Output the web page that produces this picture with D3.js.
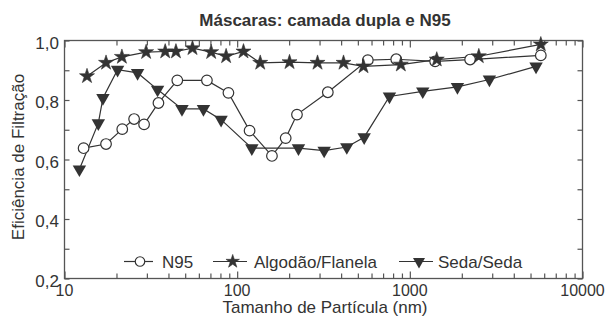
<!DOCTYPE html>
<html><head><meta charset="utf-8">
<script src="https://cdn.jsdelivr.net/npm/d3@7"></script>
<style>body{margin:0;background:#fff}svg{display:block}text{font-family:"Liberation Sans",Arial,sans-serif;fill:#333}</style>
</head><body><svg id="c" width="605" height="323"></svg>
<script>
const title = "Máscaras: camada dupla e N95";
const xLabel = "Tamanho de Partícula (nm)";
const yLabel = "Eficiência de Filtração";
const xTicks = [10, 100, 1000, 10000];
const yTicks = [0.2, 0.4, 0.6, 0.8, 1.0];
const yTickLabels = ["0,2", "0,4", "0,6", "0,8", "1,0"];
const seriesNames = ["N95", "Algodão/Flanela", "Seda/Seda"];

const n95X = [12.9, 17.4, 21.6, 25.3, 28.9, 35, 45, 66.8, 89, 118, 159, 191, 222, 335, 571, 834, 1401, 2234, 5735];
const n95Y = [0.638, 0.652, 0.702, 0.736, 0.718, 0.790, 0.866, 0.866, 0.824, 0.697, 0.612, 0.672, 0.751, 0.826, 0.934, 0.937, 0.930, 0.936, 0.950];

const algX = [13.5, 17.4, 21.5, 29.7, 38.3, 44.2, 55.1, 70.7, 86.3, 108.8, 136, 201, 292, 413, 539, 887, 1432, 2509, 5735];
const algY = [0.880, 0.925, 0.945, 0.961, 0.963, 0.963, 0.974, 0.961, 0.947, 0.963, 0.925, 0.927, 0.925, 0.925, 0.913, 0.919, 0.936, 0.947, 0.987];

const sedaX = [12.2, 15.7, 16.7, 20.3, 26.5, 34.6, 47.9, 63.8, 80.7, 121.6, 226.5, 319, 431.5, 544, 762, 1188, 1887, 2890, 5383];
const sedaY = [0.567, 0.722, 0.807, 0.902, 0.891, 0.835, 0.770, 0.770, 0.734, 0.638, 0.638, 0.630, 0.642, 0.675, 0.812, 0.829, 0.844, 0.869, 0.913];

const svg = d3.select("#c");
const L = 64.5, R = 582.5, T = 40.5, B = 278.5;
const x = d3.scaleLog().domain([10, 10000]).range([L, R]);
const y = d3.scaleLinear().domain([0.2, 1.0]).range([B, T]);
const ink = "#333", axisCol = "#555";

// frame
svg.append("rect").attr("x", L).attr("y", T).attr("width", R - L).attr("height", B - T)
  .attr("fill", "none").attr("stroke", axisCol).attr("stroke-width", 1.3);

// x ticks (inward, bottom & top)
const xMinor = [];
for (let d = 10; d < 10000; d *= 10) for (let k = 1; k <= 9; k++) xMinor.push(d * k);
xMinor.push(10000);
const xAxisB = d3.axisBottom(x).tickValues(xMinor).tickSizeInner(-5).tickSizeOuter(0).tickFormat("");
const xAxisT = d3.axisTop(x).tickValues(xMinor).tickSizeInner(-5).tickSizeOuter(0).tickFormat("");
const gxb = svg.append("g").attr("transform", `translate(0,${B})`).call(xAxisB);
const gxt = svg.append("g").attr("transform", `translate(0,${T})`).call(xAxisT);
[gxb, gxt].forEach(g => { g.select(".domain").remove(); g.selectAll("line").attr("stroke", axisCol).attr("stroke-width", 1.2); });
gxb.selectAll(".tick line").filter(d => xTicks.includes(d)).attr("y2", -7);
gxt.selectAll(".tick line").filter(d => xTicks.includes(d)).attr("y2", 7);
svg.append("g").selectAll("text").data(xTicks).join("text")
  .attr("x", d => x(d)).attr("y", 296).attr("text-anchor", "middle").attr("font-size", 16).text(d => d);

// y ticks (inward, left & right)
const yMinor = d3.range(2, 11).map(v => v / 10);
const yAxisL = d3.axisLeft(y).tickValues(yMinor).tickSizeInner(-5).tickSizeOuter(0).tickFormat("");
const yAxisR = d3.axisRight(y).tickValues(yMinor).tickSizeInner(-5).tickSizeOuter(0).tickFormat("");
const gyl = svg.append("g").attr("transform", `translate(${L},0)`).call(yAxisL);
const gyr = svg.append("g").attr("transform", `translate(${R},0)`).call(yAxisR);
[gyl, gyr].forEach(g => { g.select(".domain").remove(); g.selectAll("line").attr("stroke", axisCol).attr("stroke-width", 1.2); });
svg.append("g").selectAll("text").data(yTicks).join("text")
  .attr("x", 59).attr("y", d => y(d) + 8).attr("text-anchor", "end").attr("font-size", 17)
  .text((d, i) => yTickLabels[i]);

// titles
svg.append("text").attr("x", 325).attr("y", 26).attr("text-anchor", "middle")
  .attr("font-size", 17).attr("font-weight", "bold").text(title);
svg.append("text").attr("x", 325).attr("y", 313).attr("text-anchor", "middle").attr("font-size", 17).text(xLabel);
svg.append("text").attr("transform", "translate(24,157) rotate(-90)").attr("text-anchor", "middle")
  .attr("font-size", 17).text(yLabel);

const line = d3.line().x(d => x(d[0])).y(d => y(d[1]));
const series = [
  { name: seriesNames[0], pts: d3.zip(n95X, n95Y), sym: "circle" },
  { name: seriesNames[1], pts: d3.zip(algX, algY), sym: "star" },
  { name: seriesNames[2], pts: d3.zip(sedaX, sedaY), sym: "tri" }
];
function marker(g, sym, scale) {
  const k = scale || 1;
  if (sym === "circle") return g.append("circle").attr("r", 5.3 * Math.sqrt(k)).attr("fill", "#fff").attr("stroke", ink).attr("stroke-width", 1.2);
  if (sym === "star") return g.append("path").attr("d", d3.symbol(d3.symbolStar, 70 * k)()).attr("fill", ink).attr("stroke", ink).attr("stroke-width", 0.6);
  return g.append("path").attr("d", d3.symbol(d3.symbolTriangle, 78 * k)()).attr("transform", "rotate(180)").attr("fill", ink);
}
series.forEach(s => {
  svg.append("path").attr("d", line(s.pts)).attr("fill", "none").attr("stroke", ink).attr("stroke-width", 1.2);
});
series.forEach(s => {
  s.pts.forEach(p => {
    const g = svg.append("g").attr("transform", `translate(${x(p[0])},${y(p[1])})`);
    marker(g, s.sym);
  });
});

// legend
const legY = 261.5;
const legItems = [
  { x0: 124, x1: 153, mx: 140, tx: 162 },
  { x0: 213, x1: 247, mx: 232.7, tx: 254 },
  { x0: 399, x1: 433, mx: 419, tx: 438 }
];
series.forEach((s, i) => {
  const li = legItems[i];
  svg.append("line").attr("x1", li.x0).attr("x2", li.x1).attr("y1", legY).attr("y2", legY).attr("stroke", ink).attr("stroke-width", 1.2);
  const g = svg.append("g").attr("transform", `translate(${li.mx},${legY})`);
  marker(g, s.sym, 0.8);
  svg.append("text").attr("x", li.tx).attr("y", legY + 6.5).attr("font-size", 17).text(s.name);
});
</script></body></html>
